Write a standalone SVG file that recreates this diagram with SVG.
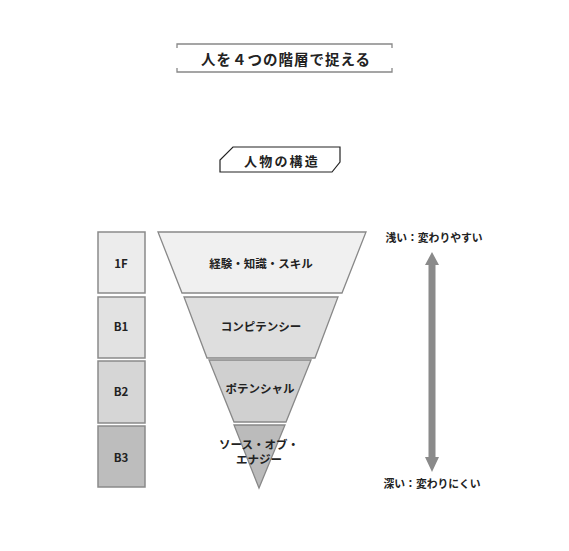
<svg xmlns="http://www.w3.org/2000/svg" width="569" height="551" viewBox="0 0 569 551">
<style>
text{font-family:"Noto Sans CJK JP","Noto Sans",sans-serif;font-weight:bold;fill:#222;text-anchor:middle;dominant-baseline:central}
.lvl{stroke:#888;stroke-width:1.3}
.box{stroke:#8a8a8a;stroke-width:1.5}
.t{font-size:11.5px}
.s{font-size:10.8px}
</style>
<rect width="569" height="551" fill="#fff"/>
<g id="title">
<path d="M177,48 V44 H392 V48 M177,68 V72 H392 V68" fill="none" stroke="#888" stroke-width="1.3"/>
<text x="286" y="58" font-size="14.5" letter-spacing="1">人を４つの階層で捉える</text>
</g>
<g id="subtitle">
<path d="M233,147 H340 V162 L332,172 H220 V160 Z" fill="#fff" stroke="#222" stroke-width="1.2"/>
<text x="282" y="160" font-size="13" letter-spacing="2.2">人物の構造</text>
</g>
<g id="floor-1F">
<rect class="box" x="98" y="232" width="47" height="61" fill="#ececec"/>
<text x="121" y="263" font-size="11.5">1F</text>
</g>
<g id="floor-B1">
<rect class="box" x="98" y="297" width="47" height="61" fill="#e2e2e2"/>
<text x="121" y="326" font-size="11.5">B1</text>
</g>
<g id="floor-B2">
<rect class="box" x="98" y="361" width="47" height="62" fill="#d6d6d6"/>
<text x="121" y="391" font-size="11.5">B2</text>
</g>
<g id="floor-B3">
<rect class="box" x="98" y="426" width="47" height="61" fill="#bdbdbd"/>
<text x="121" y="457" font-size="11.5">B3</text>
</g>
<g id="layer-1">
<polygon class="lvl" points="158,232 366,232 342,293 182,293" fill="#f0f0f0"/>
<text class="t" x="261" y="263">経験・知識・スキル</text>
</g>
<g id="layer-2">
<polygon class="lvl" points="184,297 338,297 315,358 207,358" fill="#dedede"/>
<text class="t" x="261" y="326">コンピテンシー</text>
</g>
<g id="layer-3">
<polygon class="lvl" points="209,360 311,360 286,422 234,422" fill="#d0d0d0"/>
<text class="t" x="260" y="388">ポテンシャル</text>
</g>
<g id="layer-4">
<polygon class="lvl" points="234,425 285,425 259,488" fill="#bbbbbb"/>
<text class="t" x="259" y="444">ソース・オブ・</text>
<text class="t" x="259" y="459">エナジー</text>
</g>
<g id="connectors">
<polygon points="432,252 439,265 435.5,265 435.5,457 439,457 432,472 425,457 428.5,457 428.5,265 425,265" fill="#8a8a8a"/>
</g>
<g id="label-shallow"><text class="s" x="434" y="237">浅い：変わりやすい</text></g>
<g id="label-deep"><text class="s" x="432" y="483">深い：変わりにくい</text></g>
</svg>
